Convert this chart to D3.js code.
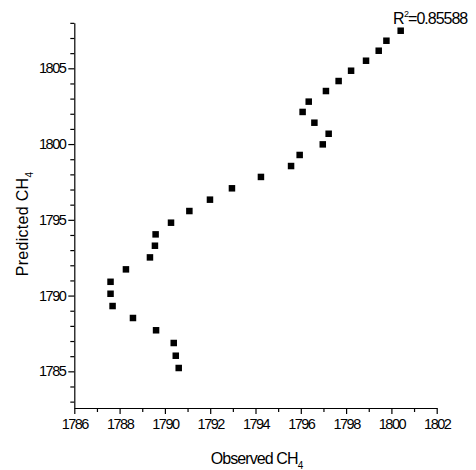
<!DOCTYPE html>
<html>
<head>
<meta charset="utf-8">
<script src="https://cdn.jsdelivr.net/npm/d3@7"></script>
<style>
  body { margin: 0; background: #fff; }
  svg { display: block; font-family: Arial, "Liberation Sans", sans-serif; }
  .axis path, .axis line { stroke: #000; stroke-width: 1.2; }
  .axis text { font-size: 14.5px; fill: #000; letter-spacing: -1.5px; }
</style>
</head>
<body>
<div id="chart"></div>
<script>
// observed vs predicted CH4
var observed = [1790.61, 1790.48, 1790.39, 1789.61, 1788.59, 1787.69, 1787.60, 1787.60, 1788.28, 1789.34,
                1789.56, 1789.59, 1790.27, 1791.08, 1791.99, 1792.96, 1794.24, 1795.57, 1795.95, 1796.97,
                1797.23, 1796.60, 1796.08, 1796.35, 1797.11, 1797.67, 1798.22, 1798.88, 1799.44, 1799.78, 1800.41];
var predicted = [1785.22, 1786.03, 1786.87, 1787.71, 1788.52, 1789.31, 1790.12, 1790.91, 1791.73, 1792.52,
                 1793.29, 1794.04, 1794.81, 1795.58, 1796.33, 1797.08, 1797.83, 1798.55, 1799.28, 1799.98,
                 1800.68, 1801.41, 1802.12, 1802.80, 1803.50, 1804.16, 1804.84, 1805.50, 1806.16, 1806.82, 1807.48];
var xTicks = [1786, 1788, 1790, 1792, 1794, 1796, 1798, 1800, 1802];
var yTicks = [1785, 1790, 1795, 1800, 1805];
var rSquared = "0.85588";

(function(){
    var width = 476, height = 470;
    var mLeft = 74.3, mRight = 436.7, mTop = 22.7, mBottom = 408;

    var svg = d3.select("#chart").append("svg")
        .attr("width", width).attr("height", height);

    var x = d3.scaleLinear().domain([1786, 1802]).range([mLeft, mRight]);
    var y = d3.scaleLinear().domain([1782.58, 1808.01]).range([mBottom, mTop]);

    // minor ticks first
    svg.append("g").attr("class", "axis")
        .attr("transform", "translate(0," + mBottom + ")")
        .call(d3.axisBottom(x).tickValues(d3.range(1787, 1802, 2)).tickSize(4).tickFormat(""))
        .select(".domain").remove();
    svg.append("g").attr("class", "axis")
        .attr("transform", "translate(" + mLeft + ",0)")
        .call(d3.axisLeft(y).tickValues(d3.range(1783, 1809).filter(function(v){ return v % 5 != 0; })).tickSize(4).tickFormat(""))
        .select(".domain").remove();

    // major ticks
    svg.append("g").attr("class", "axis")
        .attr("transform", "translate(0," + mBottom + ")")
        .call(d3.axisBottom(x).tickValues(xTicks).tickSize(6).tickSizeOuter(0).tickPadding(5).tickFormat(d3.format("d")));
    svg.append("g").attr("class", "axis")
        .attr("transform", "translate(" + mLeft + ",0)")
        .call(d3.axisLeft(y).tickValues(yTicks).tickSize(6).tickSizeOuter(0).tickPadding(3).tickFormat(d3.format("d")));

    // points
    var s = 6.5;
    svg.append("g").selectAll("rect")
        .data(observed.map(function(o, i){ return [o, predicted[i]]; }))
        .enter().append("rect")
        .attr("x", function(d){ return x(d[0]) - s/2; })
        .attr("y", function(d){ return y(d[1]) - s/2; })
        .attr("width", s).attr("height", s)
        .attr("fill", "#000");

    // axis titles
    var xt = svg.append("text")
        .attr("x", (mLeft + mRight) / 2 + 1).attr("y", 464)
        .attr("text-anchor", "middle")
        .style("font-size", "16px").style("letter-spacing", "-0.9px");
    xt.append("tspan").text("Observed CH");
    xt.append("tspan").text("4").style("font-size", "10px").attr("dy", 5);

    var yt = svg.append("text")
        .attr("transform", "translate(27.5,224) rotate(-90)")
        .attr("text-anchor", "middle")
        .style("font-size", "16px").style("letter-spacing", "0.3px");
    yt.append("tspan").text("Predicted CH");
    yt.append("tspan").text("4").style("font-size", "10px").attr("dy", 5);

    // R squared
    var rt = svg.append("text")
        .attr("x", 393).attr("y", 24)
        .style("font-size", "16px").style("letter-spacing", "-1px");
    rt.append("tspan").text("R");
    rt.append("tspan").text("2").style("font-size", "9px").attr("dx", 0.5).attr("dy", -7);
    rt.append("tspan").text("=" + rSquared).attr("dx", 0).attr("dy", 7);
})();
</script>
</body>
</html>
